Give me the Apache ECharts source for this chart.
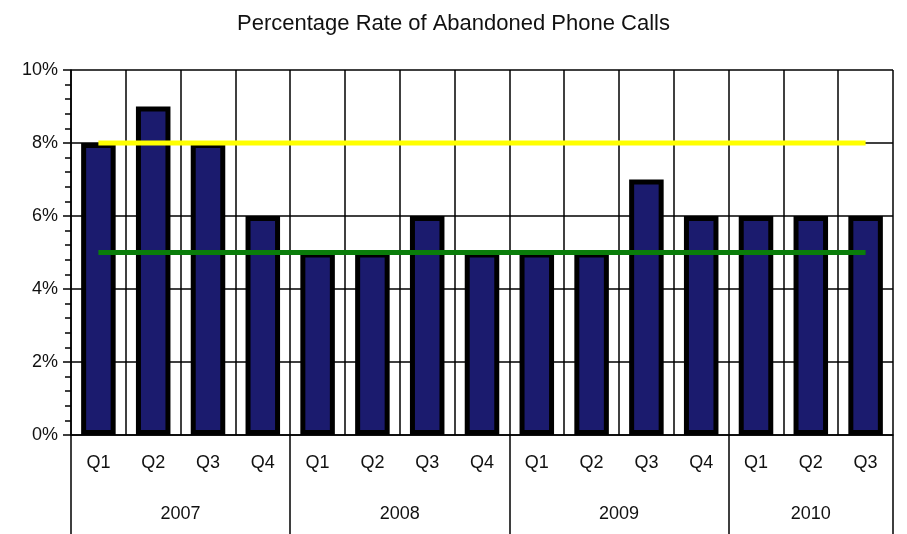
<!DOCTYPE html>
<html>
<head>
<meta charset="utf-8">
<script src="https://cdn.jsdelivr.net/npm/echarts@6/dist/echarts.min.js"></script>
<style>
  html, body { margin: 0; padding: 0; background: #fff; }
  #main { width: 907px; height: 534px; }
</style>
</head>
<body>
<div id="main"></div>
<script>
// quarters on the first axis row, years on the second
const quarters = ['Q1', 'Q2', 'Q3', 'Q4', 'Q1', 'Q2', 'Q3', 'Q4', 'Q1', 'Q2', 'Q3', 'Q4', 'Q1', 'Q2', 'Q3'];
const years = ['2007', '2008', '2009', '2010'];
const yearBounds = [0, 4, 8, 12, 15];
const yearCenters = [2, 6, 10, 13.5];

// abandoned call rate in %
const rate = [8, 9, 8, 6, 5, 5, 6, 5, 5, 5, 7, 6, 6, 6, 6];
// reference lines
const upperLimit = [8, 8, 8, 8, 8, 8, 8, 8, 8, 8, 8, 8, 8, 8, 8];
const target = [5, 5, 5, 5, 5, 5, 5, 5, 5, 5, 5, 5, 5, 5, 5];

const font = 'Liberation Sans, Arial, sans-serif';

var myChart = echarts.init(document.getElementById('main'));

var option = {
    animation: false,
    title: {
        text: 'Percentage Rate of Abandoned Phone Calls',
        left: 'center',
        top: 8,
        textStyle: { fontFamily: font, fontSize: 22, fontWeight: 'normal', color: '#111' }
    },
    grid: { left: 71, right: 14, top: 70, bottom: 99 },
    xAxis: [{
        type: 'category',
        data: quarters,
        position: 'bottom',
        axisLine: { lineStyle: { color: '#000', width: 1.5 } },
        axisTick: { interval: 0, length: 52, lineStyle: { color: '#000', width: 1.5 } },
        axisLabel: { interval: 0, margin: 19, fontFamily: font, fontSize: 18, color: '#111' },
        splitLine: { show: true, interval: 0, lineStyle: { color: '#000', width: 1.5 } }
    }, {
        type: 'value',
        min: 0,
        max: 15,
        position: 'bottom',
        axisLine: { show: false },
        splitLine: { show: false },
        axisTick: { customValues: yearBounds, length: 110, lineStyle: { color: '#000', width: 1.5 } },
        axisLabel: {
            customValues: yearCenters,
            margin: 70,
            fontFamily: font, fontSize: 18, color: '#111',
            formatter: function (v) { return years[yearCenters.indexOf(v)]; }
        }
    }],
    yAxis: {
        type: 'value',
        min: 0,
        max: 10,
        interval: 2,
        axisLine: { show: true, lineStyle: { color: '#000', width: 1.5 } },
        axisTick: { show: true, length: 8, lineStyle: { color: '#000', width: 1.5 } },
        minorTick: { show: true, splitNumber: 5, length: 6, lineStyle: { color: '#000', width: 1.5 } },
        axisLabel: { margin: 13, fontFamily: font, fontSize: 18, color: '#111', formatter: '{value}%' },
        splitLine: { show: true, lineStyle: { color: '#000', width: 1.5 } }
    },
    series: [{
        type: 'bar',
        data: rate,
        barWidth: '63%',
        itemStyle: { color: '#1b1b6e', borderColor: '#000', borderWidth: 5 }
    }, {
        type: 'line',
        data: upperLimit,
        symbol: 'none',
        lineStyle: { color: '#ffff00', width: 5 },
        z: 5
    }, {
        type: 'line',
        data: target,
        symbol: 'none',
        lineStyle: { color: '#0a7d0a', width: 5 },
        z: 5
    }]
};

myChart.setOption(option);
</script>
</body>
</html>
